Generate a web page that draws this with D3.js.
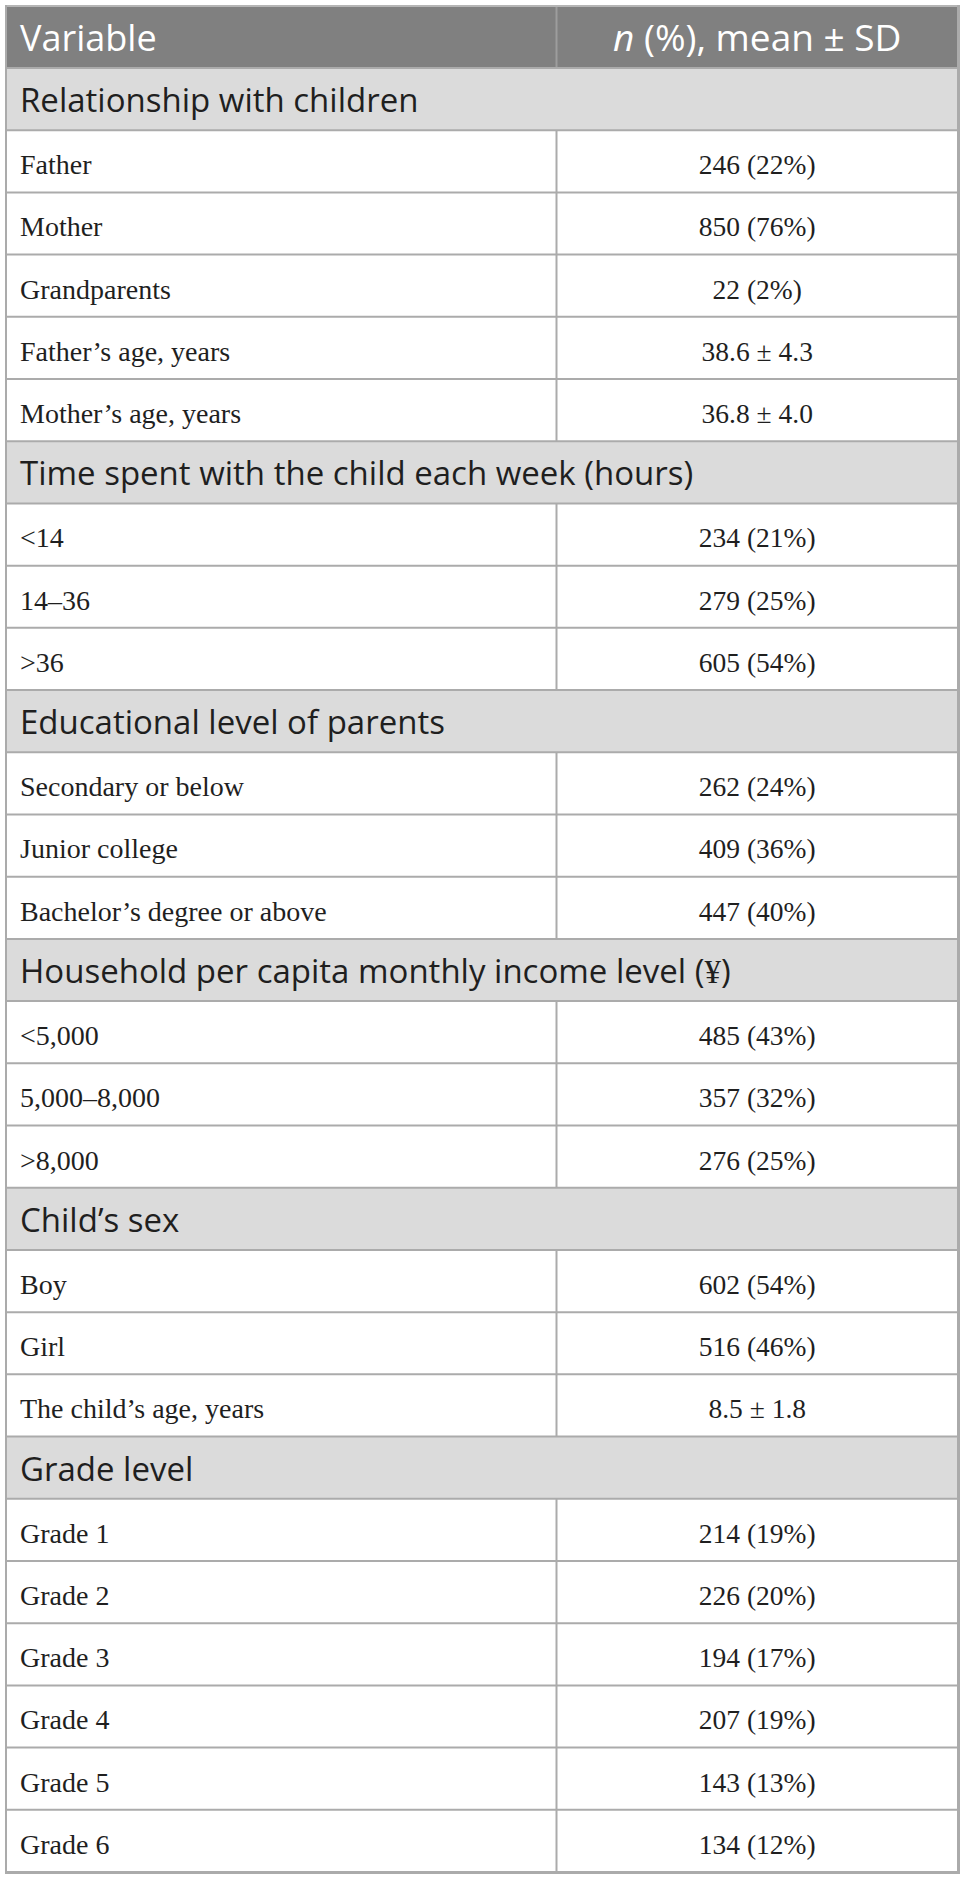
<!DOCTYPE html>
<html>
<head>
<meta charset="utf-8">
<script src="https://cdn.jsdelivr.net/npm/d3@7"></script>
<style>
html,body{margin:0;padding:0;background:#fff;}
svg{display:block;}
</style>
</head>
<body>
<svg id="chart" width="967" height="1881"></svg>
<script>
// ---- DATA ----
const headerLabels = ["Variable", "n (%), mean ± SD"];
const sectionTitles = [
  "Relationship with children",
  "Time spent with the child each week (hours)",
  "Educational level of parents",
  "Household per capita monthly income level (¥)",
  "Child’s sex",
  "Grade level"
];
const sectionLabels = [
  ["Father", "Mother", "Grandparents", "Father’s age, years", "Mother’s age, years"],
  ["<14", "14–36", ">36"],
  ["Secondary or below", "Junior college", "Bachelor’s degree or above"],
  ["<5,000", "5,000–8,000", ">8,000"],
  ["Boy", "Girl", "The child’s age, years"],
  ["Grade 1", "Grade 2", "Grade 3", "Grade 4", "Grade 5", "Grade 6"]
];
const sectionValues = [
  ["246 (22%)", "850 (76%)", "22 (2%)", "38.6 ± 4.3", "36.8 ± 4.0"],
  ["234 (21%)", "279 (25%)", "605 (54%)"],
  ["262 (24%)", "409 (36%)", "447 (40%)"],
  ["485 (43%)", "357 (32%)", "276 (25%)"],
  ["602 (54%)", "516 (46%)", "8.5 ± 1.8"],
  ["214 (19%)", "226 (20%)", "194 (17%)", "207 (19%)", "143 (13%)", "134 (12%)"]
];

// ---- BUILD ROWS ----
const rows = [];
sectionTitles.forEach((t, i) => {
  rows.push({type: "section", label: t});
  sectionLabels[i].forEach((l, j) => rows.push({type: "item", label: l, value: sectionValues[i][j]}));
});

const svg = d3.select("#chart");
const left = 6, right = 958, divider = 556.5;
const headTop = 7, headBottom = 68;
const bodyBottom = 1872;

const y = d3.scaleBand().domain(d3.range(rows.length)).range([headBottom, bodyBottom]).padding(0);
const colCenter = (divider + right) / 2;

const lineColor = "#ababab";
const sansFont = "'Open Sans', 'Noto Sans', sans-serif";
const serifFont = "'Liberation Serif', 'DejaVu Serif', serif";

// Header
svg.append("rect").attr("x", left).attr("y", headTop).attr("width", right - left).attr("height", headBottom - headTop).attr("fill", "#808080");
svg.append("line").attr("x1", divider).attr("x2", divider).attr("y1", headTop).attr("y2", headBottom)
  .attr("stroke", "#9d9d9d").attr("stroke-width", 2);
svg.append("text").attr("x", 20).attr("y", headTop + 44)
  .attr("font-family", sansFont).attr("font-size", 36).attr("fill", "#fff").text(headerLabels[0]);
const ht = svg.append("text").attr("x", colCenter).attr("y", headTop + 44).attr("text-anchor", "middle")
  .attr("font-family", sansFont).attr("font-size", 37).attr("fill", "#fff");
ht.append("tspan").attr("font-style", "italic").text(headerLabels[1].slice(0, 1));
ht.append("tspan").text(headerLabels[1].slice(1));

// Rows
const g = svg.selectAll("g.row").data(rows).join("g").attr("class", "row")
  .attr("transform", (d, i) => `translate(0,${y(i)})`);

g.append("rect").attr("x", left).attr("y", 0).attr("width", right - left).attr("height", y.bandwidth())
  .attr("fill", d => d.type === "section" ? "#dbdbdb" : "#ffffff");

g.filter(d => d.type === "item").append("line")
  .attr("x1", divider).attr("x2", divider).attr("y1", 0).attr("y2", y.bandwidth())
  .attr("stroke", lineColor).attr("stroke-width", 2);

g.append("line").attr("x1", left).attr("x2", right).attr("y1", 0).attr("y2", 0)
  .attr("stroke", lineColor).attr("stroke-width", 2);

g.filter(d => d.type === "section").each(function(d) {
  const t = d3.select(this).append("text").attr("x", 20).attr("y", 44)
    .attr("font-family", sansFont).attr("font-size", 33).attr("fill", "#1f1f1f");
  const idx = d.label.indexOf("¥");
  if (idx >= 0) {
    t.append("tspan").text(d.label.slice(0, idx));
    t.append("tspan").attr("font-family", serifFont).text("¥");
    t.append("tspan").text(d.label.slice(idx + 1));
  } else {
    t.text(d.label);
  }
});

g.filter(d => d.type === "item").append("text").attr("x", 20).attr("y", 44)
  .attr("font-family", serifFont).attr("font-size", 28).attr("fill", "#1f1f1f").text(d => d.label);
g.filter(d => d.type === "item").append("text").attr("x", colCenter).attr("y", 44).attr("text-anchor", "middle")
  .attr("font-family", serifFont).attr("font-size", 27.5).attr("fill", "#1f1f1f").text(d => d.value);

// Outer borders
svg.append("line").attr("x1", left - 1).attr("x2", right + 2).attr("y1", headTop - 1).attr("y2", headTop - 1)
  .attr("stroke", "#b5b5b5").attr("stroke-width", 2);
svg.append("line").attr("x1", left - 0).attr("x2", left - 0).attr("y1", headTop - 2).attr("y2", bodyBottom + 2)
  .attr("stroke", lineColor).attr("stroke-width", 2);
svg.append("line").attr("x1", right + 0.5).attr("x2", right + 0.5).attr("y1", headTop - 2).attr("y2", bodyBottom + 2)
  .attr("stroke", lineColor).attr("stroke-width", 3);
svg.append("line").attr("x1", left - 1).attr("x2", right + 2).attr("y1", bodyBottom + 0.5).attr("y2", bodyBottom + 0.5)
  .attr("stroke", lineColor).attr("stroke-width", 3);
</script>
</body>
</html>
